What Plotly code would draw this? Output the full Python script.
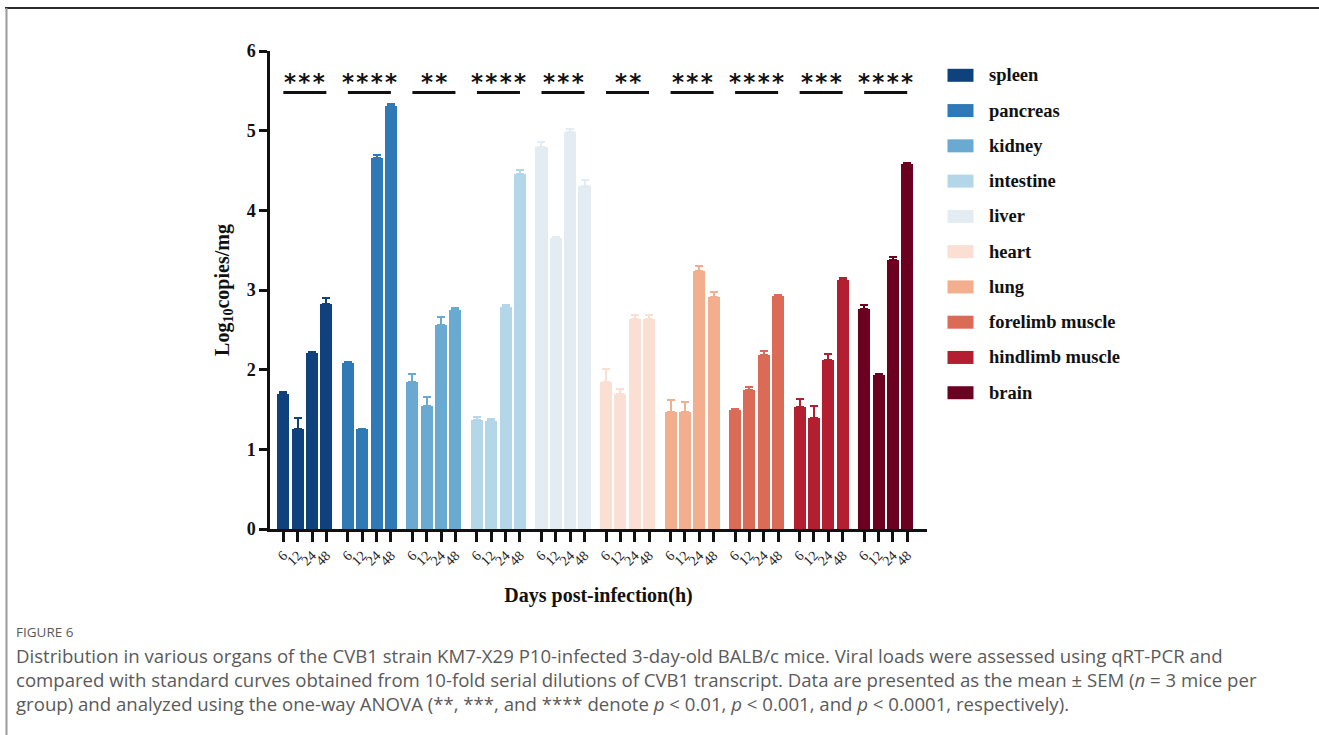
import plotly.graph_objects as go

# Organs sampled and time points (hours post-infection)
organs = ["spleen", "pancreas", "kidney", "intestine", "liver",
          "heart", "lung", "forelimb muscle", "hindlimb muscle", "brain"]
hours = ["6", "12", "24", "48"]

# Mean viral load (log10 copies/mg) per organ, one list per time point
mean_6h = [1.69, 2.08, 1.84, 1.37, 4.79, 1.84, 1.47, 1.49, 1.53, 2.76]
mean_12h = [1.26, 1.25, 1.54, 1.36, 3.65, 1.70, 1.47, 1.75, 1.39, 1.93]
mean_24h = [2.21, 4.66, 2.56, 2.79, 4.98, 2.64, 3.24, 2.19, 2.12, 3.38]
mean_48h = [2.83, 5.31, 2.75, 4.45, 4.30, 2.64, 2.91, 2.92, 3.12, 4.58]

# SEM (n = 3) per organ, one list per time point
sem_6h = [0.03, 0.02, 0.10, 0.03, 0.07, 0.17, 0.15, 0.02, 0.10, 0.05]
sem_12h = [0.13, 0.01, 0.12, 0.02, 0.02, 0.06, 0.12, 0.03, 0.15, 0.02]
sem_24h = [0.01, 0.03, 0.10, 0.02, 0.04, 0.04, 0.06, 0.04, 0.08, 0.04]
sem_48h = [0.07, 0.02, 0.03, 0.06, 0.08, 0.04, 0.06, 0.02, 0.03, 0.02]

# One-way ANOVA significance per organ
significance = ["***", "****", "**", "****", "***", "**", "***", "****", "***", "****"]

colors = ["#0f427c", "#2f79b6", "#68aad2", "#b4d6e9", "#e2ecf2",
          "#fadfd2", "#f3ae8e", "#db6b57", "#b31f30", "#6c0020"]

GROUP_STEP = 4.5   # slot spacing between organ groups
BAR_W = 0.84

means = [mean_6h, mean_12h, mean_24h, mean_48h]
sems = [sem_6h, sem_12h, sem_24h, sem_48h]

fig = go.Figure()
tickvals, ticktext = [], []
for g, organ in enumerate(organs):
    xs = [g * GROUP_STEP + t for t in range(len(hours))]
    ys = [means[t][g] for t in range(len(hours))]
    es = [sems[t][g] for t in range(len(hours))]
    tickvals += xs
    ticktext += hours
    fig.add_trace(go.Bar(
        x=xs, y=ys, width=BAR_W, name=organ,
        marker=dict(color=colors[g], line=dict(width=0)),
        error_y=dict(type="data", array=es, arrayminus=[0] * len(es),
                     symmetric=False, color=colors[g], thickness=2, width=4),
        showlegend=False,
    ))

# Plot-area geometry in pixels
W, H = 1319, 735
L, R, T, B = 270, 927, 51, 529
PW, PH = R - L, B - T


def px_x(px):
    return (px - L) / PW


def px_y(py):
    return (B - py) / PH


shapes = []
annotations = []

# Significance bars and stars above each organ group
for g, stars in enumerate(significance):
    x0 = g * GROUP_STEP
    x1 = g * GROUP_STEP + 3
    shapes.append(dict(type="line", xref="x", yref="y", x0=x0, x1=x1,
                       y0=5.48, y1=5.48, line=dict(color="#111111", width=3)))
    annotations.append(dict(
        x=(x0 + x1) / 2, y=5.61, xref="x", yref="y",
        text="<b>" + "\u200a".join(stars) + "</b>", showarrow=False,
        font=dict(family="DejaVu Sans", size=23, color="#111111"),
        xanchor="center", yanchor="middle"))

# Legend: swatches + labels
for i, organ in enumerate(organs):
    cy = 75.3 + i * 35.27
    shapes.append(dict(type="rect", xref="paper", yref="paper",
                       x0=px_x(947.5), x1=px_x(973.5),
                       y0=px_y(cy + 6.5), y1=px_y(cy - 6.5),
                       fillcolor=colors[i], line=dict(width=0)))
    annotations.append(dict(
        x=px_x(987), y=px_y(cy), xref="paper", yref="paper",
        text=f"<b>{organ}</b>", showarrow=False,
        font=dict(family="Liberation Serif", size=18.5, color="#111111"),
        xanchor="left", yanchor="middle"))

# Outer frame lines
shapes.append(dict(type="line", xref="paper", yref="paper",
                   x0=px_x(5), x1=px_x(1319), y0=px_y(8), y1=px_y(8),
                   line=dict(color="#2b2b2b", width=2)))
shapes.append(dict(type="line", xref="paper", yref="paper",
                   x0=px_x(6.5), x1=px_x(6.5), y0=px_y(8), y1=px_y(736),
                   line=dict(color="#9a9a9a", width=2)))

# Figure caption
annotations.append(dict(
    x=px_x(14), y=px_y(632), xref="paper", yref="paper",
    text="FIGURE 6", showarrow=False,
    font=dict(family="Open Sans", size=13.5, color="#5a5a5a"),
    xanchor="left", yanchor="middle"))
caption_lines = [
    "Distribution in various organs of the CVB1 strain KM7-X29 P10-infected 3-day-old BALB/c mice. "
    "Viral loads were assessed using qRT-PCR and",
    "compared with standard curves obtained from 10-fold serial dilutions of CVB1 transcript. "
    "Data are presented as the mean \u00b1 SEM (<i>n</i> = 3 mice per",
    "group) and analyzed using the one-way ANOVA (**, ***, and **** denote <i>p</i> &lt; 0.01, "
    "<i>p</i> &lt; 0.001, and <i>p</i> &lt; 0.0001, respectively).",
]
annotations.append(dict(
    x=px_x(14), y=px_y(679), xref="paper", yref="paper",
    text="<br>".join(caption_lines), showarrow=False, align="left",
    font=dict(family="Open Sans", size=18.6, color="#5a5a5a"),
    xanchor="left", yanchor="middle"))

fig.update_layout(
    width=W, height=H,
    margin=dict(l=L, r=W - R, t=T, b=H - B, pad=0),
    paper_bgcolor="white", plot_bgcolor="white",
    bargap=0, barmode="overlay",
    shapes=shapes, annotations=annotations,
    xaxis=dict(
        range=[-0.93, 44.88], tickmode="array", tickvals=tickvals, ticktext=ticktext,
        tickangle=-45, ticks="outside", ticklen=10, tickwidth=2.5, tickcolor="#111111",
        tickfont=dict(family="Liberation Serif", size=14, color="#222222"),
        showline=True, linewidth=2.5, linecolor="#111111", showgrid=False, zeroline=False,
        title=dict(text="<b>Days post-infection(h)</b>", standoff=21,
                   font=dict(family="Liberation Serif", size=20, color="#111111")),
    ),
    yaxis=dict(
        range=[0, 6], tickvals=[0, 1, 2, 3, 4, 5, 6],
        ticktext=["<b>0</b>", "<b>1</b>", "<b>2</b>", "<b>3</b>", "<b>4</b>", "<b>5</b>", "<b>6</b>"],
        ticks="outside", ticklen=8, tickwidth=2.5, tickcolor="#111111",
        tickfont=dict(family="Liberation Serif", size=18, color="#111111"),
        showline=True, linewidth=2.5, linecolor="#111111", showgrid=False, zeroline=False,
        title=dict(text="<b>Log<sub>10</sub>copies/mg</b>", standoff=12,
                   font=dict(family="Liberation Serif", size=20, color="#111111")),
    ),
)

fig.write_html("out.html")
